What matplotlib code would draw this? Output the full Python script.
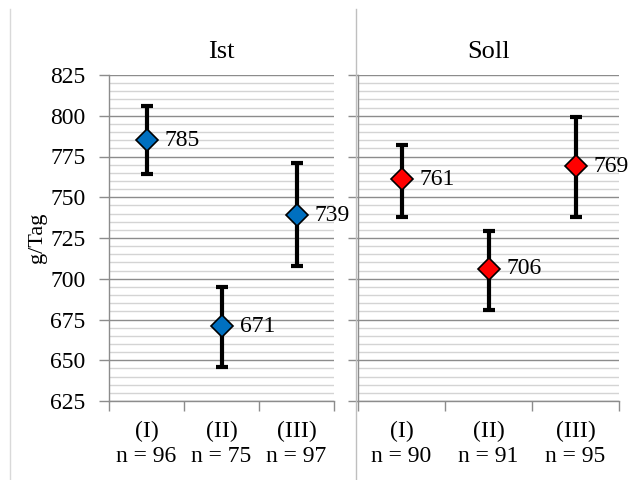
import matplotlib
matplotlib.use("Agg")
import matplotlib.pyplot as plt
import numpy as np
from matplotlib.lines import Line2D

plt.rcParams['font.family'] = ['Liberation Serif', 'DejaVu Serif']

categories = ["(I)", "(II)", "(III)"]
ist_n = [96, 75, 97]
soll_n = [90, 91, 95]
ist_mean = [785, 671, 739]
ist_low = [764, 646, 708]
ist_high = [806, 695, 771]
soll_mean = [761, 706, 769]
soll_low = [738, 681, 738]
soll_high = [782, 729, 799]
panel_titles = ["Ist", "Soll"]
y_label = "g/Tag"

W, H = 628, 480
fig = plt.figure(figsize=(W / 100, H / 100), dpi=100)

def px_axes(x0, x1, y0, y1):
    return fig.add_axes([x0 / W, (H - y1) / H, (x1 - x0) / W, (y1 - y0) / H])

ax1 = px_axes(109, 334, 75, 401)
ax2 = px_axes(358, 619, 75, 401)

# divider lines
fig.add_artist(Line2D([10 / W, 10 / W], [0, (H - 9) / H], color="#d9d9d9", lw=1))
fig.add_artist(Line2D([356 / W, 356 / W], [0, (H - 9) / H], color="#bfbfbf", lw=1))

def draw_panel(ax, means, lows, highs, ns, color, title, show_labels):
    x = np.arange(len(means)) + 0.5
    means = np.array(means)
    yerr = [means - np.array(lows), np.array(highs) - means]
    ax.set_xlim(0, 3)
    ax.set_ylim(625, 825)
    ax.set_yticks(np.arange(625, 826, 25))
    ax.set_yticks(np.arange(625, 826, 5), minor=True)
    ax.grid(True, which="minor", axis="y", color="#d4d4d4", lw=1, zorder=0)
    ax.grid(True, which="major", axis="y", color="#8c8c8c", lw=1, zorder=0)
    ax.set_axisbelow(True)
    ax.set_xticks([0, 1, 2, 3])
    ax.set_xticklabels([])
    ax.set_xticks(x, minor=True)
    ax.set_xticklabels([f"{c}\nn = {n}" for c, n in zip(categories, ns)], minor=True,
                       linespacing=1.3)
    ax.tick_params(axis="x", which="major", direction="out", length=7, color="#8c8c8c", width=1)
    ax.tick_params(axis="x", which="minor", length=0, labelsize=17, pad=14)
    ax.tick_params(axis="y", which="major", direction="out", length=7, color="#8c8c8c", width=1,
                   labelsize=17, labelleft=show_labels, pad=10)
    ax.tick_params(axis="y", which="minor", length=0)
    for s in ["top", "right"]:
        ax.spines[s].set_visible(False)
    for s in ["left", "bottom"]:
        ax.spines[s].set_color("#8c8c8c")
        ax.spines[s].set_linewidth(1)
    ax.errorbar(x, means, yerr=yerr, fmt="none", ecolor="black", elinewidth=3,
                capsize=4, capthick=3, zorder=3)
    ax.plot(x, means, linestyle="none", marker="D", markersize=11,
            markerfacecolor=color, markeredgecolor="black", markeredgewidth=1.2, zorder=4)
    for xi, m in zip(x, means):
        ax.annotate(f"{m}", (xi, m), xytext=(13, 0), textcoords="offset points",
                    va="center", ha="left", fontsize=17, zorder=5, annotation_clip=False)
    ax.set_title(title, fontsize=19, pad=12)

draw_panel(ax1, ist_mean, ist_low, ist_high, ist_n, "#0070c0", panel_titles[0], True)
draw_panel(ax2, soll_mean, soll_low, soll_high, soll_n, "#ff0000", panel_titles[1], False)
ax1.set_ylabel(y_label, fontsize=16, labelpad=2)

fig.savefig("out.png", dpi=100)
